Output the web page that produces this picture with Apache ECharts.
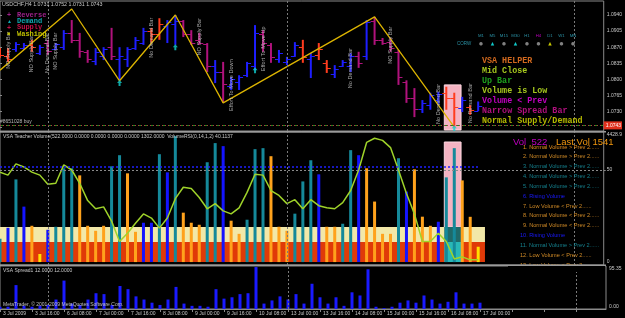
<!DOCTYPE html>
<html><head><meta charset="utf-8">
<script src="https://cdn.jsdelivr.net/npm/echarts@6/dist/echarts.min.js"></script>
<style>html,body{margin:0;padding:0;background:#000;}#c{width:625px;height:318px;}</style>
</head><body><div id="c"></div>
<script>
// ---------------- DATA ----------------
const symbolName = 'USDCHF,H4';
const dateLabels = ['3 Jul 2009','3 Jul 16:00','6 Jul 08:00','7 Jul 00:00','7 Jul 16:00','8 Jul 08:00','9 Jul 00:00','9 Jul 16:00','10 Jul 08:00','13 Jul 00:00','13 Jul 16:00','14 Jul 08:00','15 Jul 00:00','15 Jul 16:00','16 Jul 08:00','17 Jul 00:00'];
const opens = [1.0860,1.0850,1.0865,1.0868,1.0874,1.0858,1.0880,1.0866,1.0870,1.0900,
1.0886,1.0860,1.0840,1.0850,1.0870,1.0845,1.0845,1.0868,1.0880,1.0905,
1.0898,1.0915,1.0920,1.0926,1.0898,1.0885,1.0878,1.0830,1.0815,1.0785,
1.0795,1.0810,1.0830,1.0898,1.0875,1.0845,1.0838,1.0850,1.0870,1.0845,
1.0852,1.0835,1.0812,1.0830,1.0830,1.0850,1.0850,1.0928,1.0886,1.0882,
1.0860,1.0795,1.0760,1.0735,1.0745,1.0755,1.0770,1.0760,1.0738,1.0740,1.0731];
const highs = [1.0868,1.0868,1.0881,1.0879,1.0886,1.0875,1.0886,1.0879,1.0907,1.0929,
1.0901,1.0864,1.0868,1.0870,1.0912,1.0870,1.0870,1.0892,1.0912,1.0912,
1.0933,1.0929,1.0940,1.0929,1.0907,1.0901,1.0879,1.0842,1.0838,1.0805,
1.0809,1.0838,1.0918,1.0907,1.0879,1.0864,1.0849,1.0881,1.0886,1.0857,
1.0879,1.0842,1.0831,1.0842,1.0857,1.0860,1.0929,1.0936,1.0890,1.0890,
1.0864,1.0798,1.0781,1.0755,1.0771,1.0773,1.0784,1.0771,1.0762,1.0744,1.0752];
const lows = [1.0847,1.0838,1.0860,1.0864,1.0860,1.0853,1.0853,1.0864,1.0864,1.0879,
1.0847,1.0836,1.0831,1.0842,1.0842,1.0798,1.0827,1.0864,1.0875,1.0879,
1.0886,1.0879,1.0875,1.0892,1.0875,1.0875,1.0816,1.0792,1.0749,1.0777,
1.0777,1.0805,1.0820,1.0860,1.0836,1.0836,1.0831,1.0849,1.0836,1.0803,
1.0842,1.0814,1.0803,1.0827,1.0816,1.0825,1.0842,1.0875,1.0875,1.0860,
1.0788,1.0749,1.0718,1.0727,1.0734,1.0744,1.0734,1.0696,1.0729,1.0723,1.0731];
const closes = [1.0852,1.0845,1.0876,1.0875,1.0870,1.0870,1.0862,1.0876,1.0901,1.0886,
1.0862,1.0845,1.0860,1.0866,1.0850,1.0850,1.0866,1.0886,1.0905,1.0898,
1.0920,1.0925,1.0928,1.0898,1.0880,1.0880,1.0830,1.0815,1.0790,1.0800,
1.0805,1.0835,1.0900,1.0880,1.0848,1.0858,1.0845,1.0875,1.0848,1.0850,
1.0866,1.0825,1.0822,1.0838,1.0850,1.0835,1.0925,1.0885,1.0880,1.0868,
1.0805,1.0760,1.0735,1.0748,1.0765,1.0768,1.0760,1.0740,1.0755,1.0733,1.0743];
// u = up (blue), d = down (magenta), s = supply (red)
const barTypes = ('ssuusuduud'+'dduuduuuus'+'suuddddudu'+'uuudduuusu'+'ssuuududdd'+'ddduuussusu').split('');
const zigzagIdx = [0, 9, 15, 22, 28, 47, 57];
const zigzagPrice = [1.0820, 1.0953, 1.0797, 1.0940, 1.0749, 1.0936, 1.0696];
const demandIdx = [15, 22, 32, 57];
const demandPrice = [1.0792, 1.0870, 1.0820, 1.0694];
const noteIdx = [1, 4, 6, 7, 19, 25, 29, 33, 44, 49, 55, 59];
const notePrice = [1.0870, 1.0862, 1.0864, 1.0868, 1.0897, 1.0899, 1.0794, 1.0873, 1.0831, 1.0881, 1.0753, 1.0755];
const noteText = ['NO Supply Bar','NO Supply Bar','No Demand Bar','NO Supply Bar','No Demand Bar','NO Supply Bar','Effort To Move Down','Effort To Move Up','No Demand Bar','NO Supply Bar','No Demand Bar','No Demand Bar'];
const priceTicks = [1.0695, 1.0730, 1.0765, 1.0800, 1.0835, 1.0870, 1.0905, 1.0940];
const bidPrice = 1.0743;
const orderPrice = 1.0744;
const orderLabel = '#8651028 buy';
const highlightBars = [56, 57];
const weekSeparators = [6, 36, 72];

const volumes = [790,1167,2815,1888,1236,275,1099,1202,3193,3193,
2952,1236,1064,1236,3261,3639,3021,1030,1339,1339,
3673,3055,4291,1682,1339,1270,3399,4051,3948,1408,
961,1442,3845,3879,3605,1202,1064,1648,2746,3467,
2987,1202,1202,1305,3811,3639,3193,2060,961,961,
3536,2400,3158,1545,1236,1373,2884,3879,2781,1541,522];
// t = teal, b = blue, o = orange, y = yellow
const volTypes = ('tbtboybttt'+'oooottoobb'+'tbtooottbo'+'otttoootttt'.slice(0,10)+'boottboooo'+'tbooobttooy').split('');
const volRsi = [48.9,47.3,53.2,51.6,48.9,47.3,42.5,43.0,52.7,50.0,
43.0,33.9,29.6,30.6,23.1,12.4,16.7,22.0,26.9,24.7,
19.4,24.7,34.9,40.9,40.3,35.5,29.6,32.3,28.5,26.9,
30.1,38.2,47.8,47.3,39.2,36.6,32.3,34.4,29.6,34.4,
31.2,30.1,29.6,32.8,39.2,50.0,64.5,66.7,65.6,61.8,
50.0,37.6,26.9,12.4,12.4,16.7,12.4,3.2,4.3,2.7,2.7];
const volAxisMax = 4428.9;
const rsiLevel = 50;
const highVolLevel = 3250;
const lowVolBand = 683;
const avgVolBand = 1194;
const volTitle = 'VSA Teacher Volume(522.0000 0.0000 0.0000 0.0000 0.0000 1302.0000  VolumeRSI(0,14,1,2) 40.1137';
const volNotes = ['1. Normal Volume > Prev 2......','2. Normal Volume > Prev 2......','3. Normal Volume > Prev 2......','4. Normal Volume > Prev 2......','5. Normal Volume > Prev 2......','6. Rising Volume','7. Low Volume < Prev 2......','8. Normal Volume < Prev 2......','9. Normal Volume < Prev 2......','10. Rising Volume','11. Normal Volume > Prev 2......','12. Low Volume < Prev 2......','13. Low Volume < Prev 2......'];
const volNoteColors = ['#e8901e','#d08a26','#15808e','#15808e','#15808e','#1a1aff','#d08a26','#d08a26','#d08a26','#1a1aff','#15808e','#d08a26','#d08a26'];

const spreads = [5,5,53,7,5,7,9,21,63,12,
9,21,35,33,9,51,44,28,21,14,
9,21,49,12,7,7,5,44,23,26,
33,35,93,12,19,28,21,33,12,56,
26,12,26,7,37,30,88,5,2,5,
14,19,14,30,21,12,16,37,12,12,14];
const spreadAxisMax = 95.35;
const spreadTitle = 'VSA Spread1 12.0000 12.0000';

const helperLines = ['VSA HELPER','Mid Close','Up Bar','Volume is Low','Volume < Prev','Narrow Spread Bar','Normal Supply/Demand'];
const helperColors = ['#d2691e','#a6c81e','#1ea01e','#a6c81e','#c000c0','#b0107e','#b4b800'];
const legendNames = ['Reverse','Demand','Supply','Washing'];
const legendColors = ['#a0208a','#10a8b0','#c01048','#c0c000'];
const legendIcons = ['+','▲','+','■'];
const tfNames = ['M1','M5','M15','M30','H1','H4','D1','W1','MN'];
const tfSignals = ['●','▲','●','▲','●','●','▲','●','●'];
const tfSignalColors = ['#808080','#10c8c8','#808080','#10c8c8','#808080','#808080','#c8c800','#808080','#808080'];

// ---------------- STYLE ----------------
const FONT = 'Liberation Sans';
const MONO = 'Liberation Mono';
const barColors = { u: '#1e1eff', d: '#b0127c', s: '#ff3c1e' };
const volColors = { t: '#15899a', b: '#1414ff', o: '#ffa21c', y: '#ffe000' };
const N = opens.length;
const XMAX = 75.75;

const ohlcData = opens.map((o, i) => [i, o, highs[i], lows[i], closes[i]]);
const chart = echarts.init(document.getElementById('c'), null, { renderer: 'canvas' });

function xAxisCfg(gi, labels) {
  return {
    type: 'value', gridIndex: gi, min: 0, max: XMAX, interval: 4,
    axisLine: { show: labels, lineStyle: { color: '#8a8a8a' } },
    axisTick: { show: labels, length: 3, inside: false, lineStyle: { color: '#8a8a8a' } },
    splitLine: { show: false },
    axisLabel: labels ? {
      show: true, align: 'left', margin: 2, padding: [0, 0, 0, 3],
      color: '#c8c8c8', fontSize: 5, fontFamily: FONT,
      showMinLabel: true, showMaxLabel: false, hideOverlap: false,
      formatter: v => { const k = Math.round(v / 4); return (Math.abs(v - k * 4) < 1e-6 && dateLabels[k]) ? dateLabels[k] : ''; }
    } : { show: false }
  };
}
function yLabel(values, fmt, extra) {
  return Object.assign({
    show: true, customValues: values, formatter: fmt,
    color: '#c8c8c8', fontSize: 5, fontFamily: FONT, margin: 3,
    rich: { t: { padding: [6, 0, 0, 0], fontSize: 5, fontFamily: FONT, color: '#c8c8c8' },
            b: { padding: [0, 0, 5, 0], fontSize: 5, fontFamily: FONT, color: '#c8c8c8' } }
  }, extra || {});
}

const sepMark = {
  silent: true, symbol: 'none', label: { show: false },
  lineStyle: { color: '#7a7a7a', type: [2, 2], width: 1 },
  data: weekSeparators.map(v => ({ xAxis: v }))
};

const graphics = [];
function txt(x, y, text, fill, size, family, weight, z) {
  graphics.push({ type: 'text', x, y, z: z || 50, silent: true,
    style: { text, fill, fontSize: size, fontFamily: family || FONT, fontWeight: weight || 'normal', verticalAlign: 'middle' } });
}
// titles
txt(2, 5, symbolName + ' ' + [opens[N-1], highs[N-1], lows[N-1], closes[N-1]].map(v => v.toFixed(4)).join(' '), '#c8c8c8', 5.3);
txt(3, 137, volTitle, '#c8c8c8', 5);
txt(3, 271, spreadTitle, '#c8c8c8', 5);
txt(3, 305, 'MetaTrader, © 2001-2009 MetaQuotes Software Corp.', '#c0c0c0', 5);
// legend
legendNames.forEach((n, k) => {
  txt(7, 15 + k * 6.3, legendIcons[k], legendColors[k], k === 1 || k === 3 ? 5 : 7, FONT, 'bold');
  txt(17, 15 + k * 6.3, n, legendColors[k], 7, MONO, 'bold');
});
// helper
helperLines.forEach((n, k) => txt(482, 61 + k * 10, n, helperColors[k], 8.4, MONO, 'bold'));
// timeframe row
tfNames.forEach((n, k) => {
  graphics.push({ type: 'text', x: 481 + k * 11.5, y: 36, z: 50, silent: true,
    style: { text: n, fill: n === 'H4' ? '#c000c0' : '#2a90a4', fontSize: 4.3, fontFamily: FONT, align: 'center', verticalAlign: 'middle' } });
  graphics.push({ type: 'text', x: 481 + k * 11.5, y: 44, z: 50, silent: true,
    style: { text: tfSignals[k], fill: tfSignalColors[k], fontSize: 4.5, fontFamily: 'DejaVu Sans', align: 'center', verticalAlign: 'middle' } });
});
txt(457, 44, 'CORW', '#2a90a4', 4.5);
// volume info
txt(513, 142, 'Vol  ' + volumes[N-1], '#c000c0', 9.5);
txt(556, 142, 'Last Vol ' + volumes[N-2], '#f0960e', 9.5);
volNotes.forEach((n, k) => txt(k >= 9 ? 520 : 523, 147 + k * 9.85, n, volNoteColors[k], 5.6));
// cover for clipped last note + separators
graphics.push({ type: 'rect', z: 60, silent: true, shape: { x: 508, y: 265, width: 97, height: 7 }, style: { fill: '#000' } });
graphics.push({ type: 'rect', z: 61, silent: true, shape: { x: 0, y: 131, width: 606, height: 1.5 }, style: { fill: '#9a9a9a' } });
graphics.push({ type: 'rect', z: 61, silent: true, shape: { x: 0, y: 264.5, width: 606, height: 1.5 }, style: { fill: '#9a9a9a' } });

const option = {
  backgroundColor: '#000',
  animation: false,
  grid: [
    { left: 0, top: 1, width: 606, height: 130, show: true, borderColor: '#8a8a8a', borderWidth: 1, backgroundColor: 'transparent' },
    { left: 0, top: 132, width: 606, height: 133, show: true, borderColor: '#8a8a8a', borderWidth: 1, backgroundColor: 'transparent' },
    { left: 0, top: 266, width: 606, height: 43, show: true, borderColor: '#8a8a8a', borderWidth: 1, backgroundColor: 'transparent' }
  ],
  xAxis: [xAxisCfg(0, false), xAxisCfg(1, false), xAxisCfg(2, true)],
  yAxis: [
    { type: 'value', gridIndex: 0, position: 'right', min: 1.06878, max: 1.09704,
      axisLine: { show: false }, splitLine: { show: false },
      axisTick: { show: true, customValues: priceTicks, length: 2, lineStyle: { color: '#8a8a8a' } },
      axisLabel: yLabel(priceTicks, v => v.toFixed(4)) },
    { type: 'value', gridIndex: 1, position: 'right', min: -100, max: volAxisMax,
      axisLine: { show: false }, splitLine: { show: false },
      axisTick: { show: false },
      axisLabel: yLabel([0, volAxisMax], v => v > 0 ? '{t|' + volAxisMax.toFixed(1) + '}' : '0') },
    { type: 'value', gridIndex: 1, position: 'right', min: 0, max: 70,
      axisLine: { show: false }, splitLine: { show: false },
      axisTick: { show: true, customValues: [rsiLevel], length: 2, lineStyle: { color: '#8a8a8a' } },
      axisLabel: yLabel([rsiLevel], v => String(v)) },
    { type: 'value', gridIndex: 2, position: 'right', min: 0, max: spreadAxisMax,
      axisLine: { show: false }, splitLine: { show: false },
      axisTick: { show: false },
      axisLabel: yLabel([0, spreadAxisMax], v => v > 0 ? '{t|' + spreadAxisMax.toFixed(2) + '}' : '{b|0.00}') }
  ],
  graphic: graphics,
  series: [
    // price panel helpers (highlight box, separators, bid/order lines)
    { type: 'line', xAxisIndex: 0, yAxisIndex: 0, data: [[0, bidPrice]], showSymbol: false, silent: true, z: 1,
      lineStyle: { width: 0, opacity: 0 },
      markArea: { silent: true, itemStyle: { color: '#f4b3c2', borderColor: '#fcd8e0', borderWidth: 1 },
        data: [[{ xAxis: highlightBars[0] - 0.25, yAxis: 1.0788 }, { xAxis: highlightBars[1] + 0.85, yAxis: 1.0690 }]] },
      markLine: { silent: true, symbol: 'none',
        data: [
          ...weekSeparators.map(v => ({ xAxis: v, lineStyle: { color: '#7a7a7a', type: [2, 2], width: 1 }, label: { show: false } })),
          { yAxis: orderPrice, lineStyle: { color: '#1f8a1f', type: [3, 3], width: 1 },
            label: { show: true, position: 'insideStartTop', formatter: orderLabel, color: '#b8b8b8', fontSize: 5, fontFamily: FONT, distance: [0, 1] } },
          { yAxis: bidPrice, lineStyle: { color: '#b03a3a', type: [1, 2], width: 1 },
            label: { show: true, position: 'end', formatter: bidPrice.toFixed(4), color: '#fff', backgroundColor: '#e0301c',
                     fontSize: 5, fontFamily: FONT, padding: [2, 1, 1, 2], distance: 0 } }
        ] } },
    // OHLC bars
    { type: 'custom', xAxisIndex: 0, yAxisIndex: 0, z: 3, data: ohlcData,
      encode: { x: 0, y: [1, 2, 3, 4] },
      renderItem: (params, api) => {
        const i = api.value(0);
        const pH = api.coord([i, api.value(2)]), pL = api.coord([i, api.value(3)]);
        const pO = api.coord([i, api.value(1)]), pC = api.coord([i, api.value(4)]);
        const col = barColors[barTypes[params.dataIndex]];
        return { type: 'group', children: [
          { type: 'line', shape: { x1: pH[0], y1: pH[1], x2: pL[0], y2: pL[1] }, style: { stroke: col, lineWidth: 2 } },
          { type: 'line', shape: { x1: pO[0] - 4, y1: Math.round(pO[1]) + 0.5, x2: pO[0], y2: Math.round(pO[1]) + 0.5 }, style: { stroke: col, lineWidth: 1 } },
          { type: 'line', shape: { x1: pC[0], y1: Math.round(pC[1]) + 0.5, x2: pC[0] + 4, y2: Math.round(pC[1]) + 0.5 }, style: { stroke: col, lineWidth: 1 } }
        ] };
      } },
    // zigzag
    { type: 'line', xAxisIndex: 0, yAxisIndex: 0, z: 4, showSymbol: false, silent: true,
      data: zigzagIdx.map((x, k) => [x, zigzagPrice[k]]),
      lineStyle: { color: '#dcb400', width: 1.3 } },
    // text annotations
    { type: 'scatter', xAxisIndex: 0, yAxisIndex: 0, z: 5, symbolSize: 0, silent: true,
      data: noteIdx.map((x, k) => [x, notePrice[k], noteText[k]]),
      label: { show: true, position: 'inside', rotate: 90, offset: [-3, 0], formatter: p => p.data[2],
               color: '#d0d0d0', fontSize: 5.6, fontFamily: FONT } },
    // demand arrows
    { type: 'scatter', xAxisIndex: 0, yAxisIndex: 0, z: 6, silent: true,
      symbol: 'path://M5,0 L10,5 L7,5 L7,10 L3,10 L3,5 L0,5 Z', symbolSize: [5, 6],
      itemStyle: { color: '#10d0d0' },
      data: demandIdx.map((x, k) => [x, demandPrice[k]]) },

    // volume panel helpers
    { type: 'line', xAxisIndex: 1, yAxisIndex: 1, data: [[0, 0]], showSymbol: false, silent: true, z: 1,
      lineStyle: { width: 0, opacity: 0 },
      markArea: { silent: true, data: [
        [{ xAxis: -1, yAxis: 0, itemStyle: { color: '#e03a08' } }, { xAxis: N - 1 + 0.85, yAxis: lowVolBand }],
        [{ xAxis: -1, yAxis: lowVolBand, itemStyle: { color: '#f2e8a8' } }, { xAxis: N - 1 + 0.85, yAxis: avgVolBand }],
        [{ xAxis: highlightBars[0] - 0.25, yAxis: avgVolBand, itemStyle: { color: '#f4b3c2', borderColor: '#fcd8e0', borderWidth: 1 } },
         { xAxis: highlightBars[1] + 0.85, yAxis: 4088 }],
        [{ xAxis: highlightBars[0] - 0.25, yAxis: lowVolBand, itemStyle: { color: '#1f6a6a' } }, { xAxis: highlightBars[1] + 0.85, yAxis: avgVolBand }],
        [{ xAxis: highlightBars[0] - 0.25, yAxis: 0, itemStyle: { color: '#28b8b8' } }, { xAxis: highlightBars[1] + 0.85, yAxis: lowVolBand }]
      ] },
      markLine: { silent: true, symbol: 'none', data: [
        ...weekSeparators.map(v => ({ xAxis: v, lineStyle: { color: '#7a7a7a', type: [2, 2], width: 1 }, label: { show: false } })),
        [{ coord: [0, highVolLevel], lineStyle: { color: '#2020ff', type: [2, 2], width: 1.5 }, label: { show: false } }, { coord: [N - 1, highVolLevel] }]
      ] } },
    { type: 'bar', xAxisIndex: 1, yAxisIndex: 1, z: 3, barWidth: 3, silent: true,
      data: volumes.map((v, i) => ({ value: [i, v], itemStyle: { color: volColors[volTypes[i]] } })) },
    { type: 'line', xAxisIndex: 1, yAxisIndex: 2, z: 4, showSymbol: false, silent: true,
      data: volRsi.map((v, i) => [i, v]),
      lineStyle: { color: '#9fd32a', width: 1.5 },
      markLine: { silent: true, symbol: 'none', label: { show: false },
        lineStyle: { color: '#8a8a8a', type: [2, 2], width: 1 }, data: [{ yAxis: rsiLevel }] } },

    // spread panel
    { type: 'bar', xAxisIndex: 2, yAxisIndex: 3, z: 3, barWidth: 3, silent: true,
      itemStyle: { color: '#1a1aff' },
      data: spreads.map((v, i) => [i, v]),
      markLine: sepMark }
  ]
};
chart.setOption(option);
</script>
</body></html>
